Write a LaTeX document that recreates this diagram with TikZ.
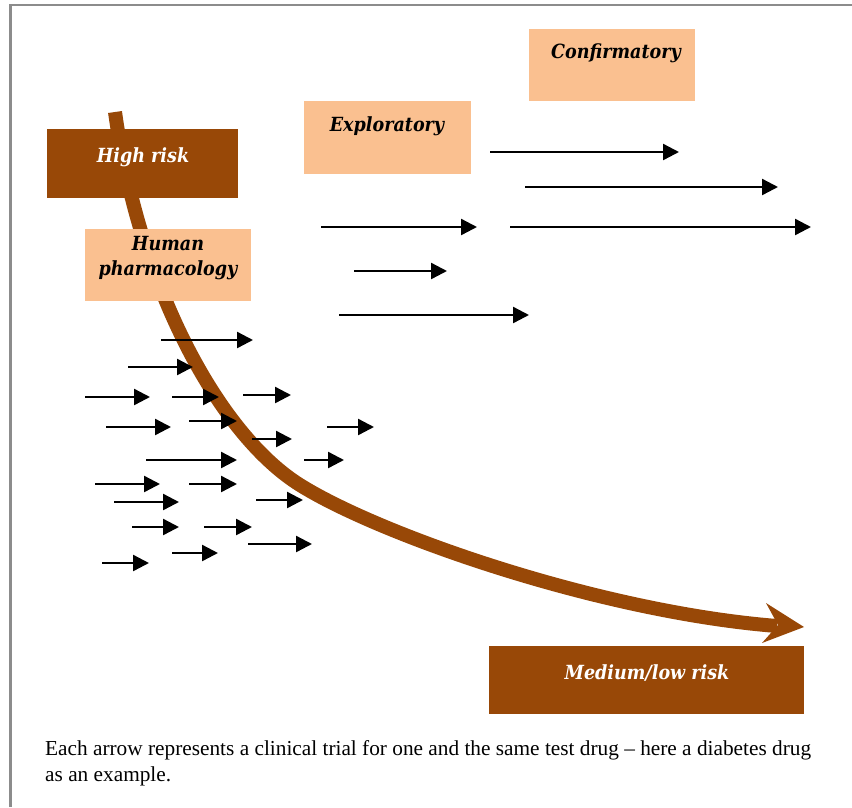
\documentclass[tikz,border=0pt]{standalone}
\usepackage{fontspec}
\setmainfont{Liberation Serif}
\newfontfamily\lblfont{DejaVu Serif}[FakeStretch=0.9]
\usetikzlibrary{arrows.meta}
\definecolor{lightor}{HTML}{FAC090}
\definecolor{darkbr}{HTML}{984807}
\definecolor{framegray}{HTML}{8C8C8C}
\begin{document}
\begin{tikzpicture}[x=1pt,y=-1pt,
  lbl/.style={font=\lblfont\bfseries\itshape\fontsize{19.5}{25.5}\selectfont, inner sep=0pt, align=center},
  lightbox/.style={fill=lightor, draw=none, inner sep=0pt, anchor=north west},
  darkbox/.style={fill=darkbr, draw=none, inner sep=0pt, anchor=north west},
  trial/.style={line width=2.4pt, -{Triangle[length=16pt,width=16pt]}},
  riskpath/.style={darkbr, line width=14pt}]
\useasboundingbox (0,0) rectangle (852,807);
\fill[white] (0,0) rectangle (852,807);
\draw[framegray, line width=2.2pt] (10.5,807) -- (10.5,5) -- (852,5);

% risk curve
\coordinate (rstart) at (115,112);
\coordinate (rmid) at (300,485);
\coordinate (rend) at (777,626);
\draw[riskpath] (rstart) .. controls (140,290) and (220,435) .. (rmid)
  .. controls (380,535) and (600,612) .. (rend);
\fill[darkbr] (804,627) -- (766,603) -- (778,625) -- (762,643) -- cycle;

% boxes
\node[lightbox, minimum width=166pt, minimum height=72pt] (confbox) at (529,29) {};
\node[lightbox, minimum width=167pt, minimum height=73pt] (explbox) at (304,101) {};
\node[darkbox, minimum width=191pt, minimum height=69pt] (highbox) at (47,129) {};
\node[lightbox, minimum width=166pt, minimum height=72pt] (humbox) at (85,229) {};
\node[darkbox, minimum width=315pt, minimum height=68pt] (medbox) at (489,646) {};

% labels
\node[lbl] (conf) at (616,53) {Confirmatory};
\node[lbl] (expl) at (387,126) {Exploratory};
\node[lbl, text=white] (high) at (143,157) {High risk};
\node[lbl] (hum) at (168,258) {Human\\pharmacology};
\node[lbl, text=white] (med) at (647,673) {Medium/low risk};

% trials
\foreach \i/\xa/\xb/\yy in {
  1/490/679/152, 2/525/778/187, 3/321/477/227, 4/510/811/227, 5/354/447/271, 6/339/529/315,
  7/161/253/340, 8/128/193/367, 9/85/150/397, 10/172/219/397, 11/243/291/395,
  12/106/171/427, 13/189/237/421, 14/327/374/427, 15/252/292/439, 16/146/237/460,
  17/304/344/460, 18/95/160/484, 19/189/237/484, 20/114/179/502, 21/256/303/500,
  22/132/179/527, 23/204/252/527, 24/172/218/553, 25/248/312/544, 26/102/149/563} {
  \coordinate (s\i) at (\xa,\yy);
  \coordinate (e\i) at (\xb,\yy);
  \draw[trial] (s\i) -- (e\i);
}

% caption
\node[anchor=base west, inner sep=0pt, align=left, font=\fontsize{21.3}{26}\selectfont] (cap) at (45,781)
  {Each arrow represents a clinical trial for one and the same test drug -- here a diabetes drug\\as an example.};
\end{tikzpicture}
\end{document}
